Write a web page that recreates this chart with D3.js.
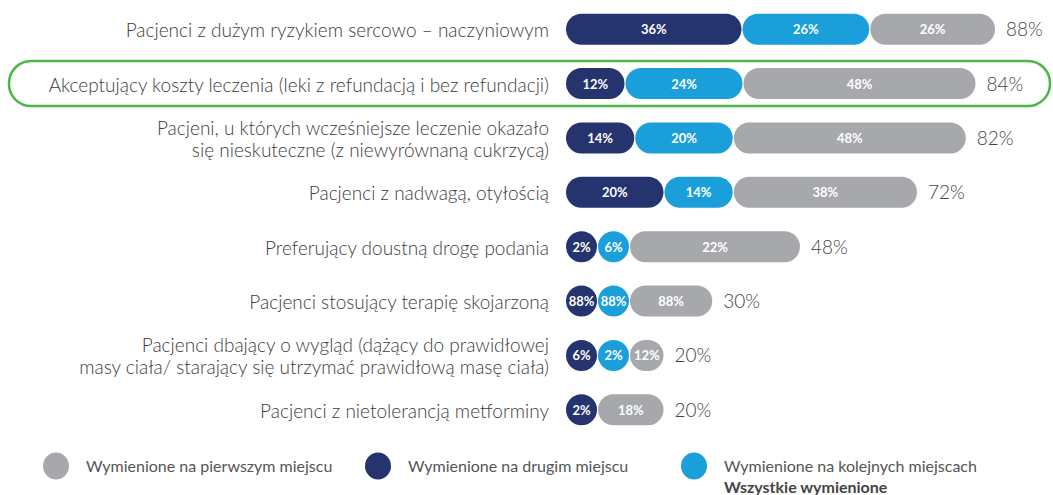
<!DOCTYPE html>
<html>
<head>
<meta charset="utf-8">
<script src="https://cdn.jsdelivr.net/npm/d3@7"></script>
<style>
  body { margin: 0; background: #fff; }
  svg { display: block; font-family: Lato, "Open Sans", sans-serif; }
</style>
</head>
<body>
<svg width="1053" height="495"></svg>
<script>
// dane
const categories = [
  ['Pacjenci z dużym ryzykiem sercowo – naczyniowym'],
  ['Akceptujący koszty leczenia (leki z refundacją i bez refundacji)'],
  ['Pacjeni, u których wcześniejsze leczenie okazało', 'się nieskuteczne (z niewyrównaną cukrzycą)'],
  ['Pacjenci z nadwagą, otyłością'],
  ['Preferujący doustną drogę podania'],
  ['Pacjenci stosujący terapię skojarzoną'],
  ['Pacjenci dbający o wygląd (dążący do prawidłowej', 'masy ciała/ starający się utrzymać prawidłową masę ciała)'],
  ['Pacjenci z nietolerancją metforminy']
];
const secondPlace = [36, 12, 14, 20, 2, 88, 6, 2];     // granatowy
const nextPlaces = [26, 24, 20, 14, 6, 88, 2, null];    // niebieski
const firstPlace = [26, 48, 48, 38, 22, 88, 12, 18];    // szary
const totals = [88, 84, 82, 72, 48, 30, 20, 20];
const highlighted = 1;

const legendItems = [
  { label: 'Wymienione na pierwszym miejscu', key: 'first' },
  { label: 'Wymienione na drugim miejscu', key: 'second' },
  { label: 'Wymienione na kolejnych miejscach', key: 'next' }
];

const colors = { second: '#25336e', next: '#1a9fdb', first: '#a7a8ab' };

const svg = d3.select('svg');

// skale
const x = d3.scaleLinear().domain([0, 88]).range([566, 995]);
const y = d3.scaleBand().domain(d3.range(categories.length)).range([2, 437]);
const barH = 31;
const minW = 31;
const gap = 1;

// ramka wyróżnienia
const hy = y(highlighted) + y.bandwidth() / 2;
svg.append('rect')
  .attr('x', 9)
  .attr('y', hy - 22.5)
  .attr('width', 1041)
  .attr('height', 45)
  .attr('rx', 22)
  .attr('fill', 'none')
  .attr('stroke', '#4db748')
  .attr('stroke-width', 2.5);

const rows = svg.selectAll('g.row')
  .data(categories)
  .join('g')
  .attr('class', 'row')
  .attr('transform', (d, i) => `translate(0,${y(i) + y.bandwidth() / 2})`);

// etykiety kategorii
rows.each(function (lines, i) {
  const t = d3.select(this).append('text')
    .attr('text-anchor', 'end')
    .attr('fill', '#3c3c3c')
    .style('font-size', '19px')
    .style('font-weight', 300);
  lines.forEach((ln, j) => {
    t.append('tspan')
      .attr('x', 549)
      .attr('y', (j - (lines.length - 1) / 2) * 22 + 8)
      .text(ln);
  });
});

// segmenty
rows.each(function (lines, i) {
  const g = d3.select(this);
  const parts = [['second', secondPlace[i]], ['next', nextPlaces[i]]].filter(p => p[1] != null);
  // gdy etykiety nie sumują się do wyniku, mniejsze segmenty dostają minimalną szerokość
  const consistent = d3.sum(parts, p => p[1]) + firstPlace[i] === totals[i];
  const segs = [];
  let start = x(0);
  parts.forEach(([key, v]) => {
    const w = consistent ? Math.max(minW, x(v) - x(0)) : minW;
    segs.push({ key, v, x0: start, w });
    start += w + gap;
  });
  segs.push({ key: 'first', v: firstPlace[i], x0: start, w: x(totals[i]) - start });

  g.selectAll('rect.seg')
    .data(segs)
    .join('rect')
    .attr('class', 'seg')
    .attr('x', d => d.x0)
    .attr('y', -barH / 2)
    .attr('width', d => d.w)
    .attr('height', barH)
    .attr('rx', barH / 2)
    .attr('fill', d => colors[d.key]);

  g.selectAll('text.seg')
    .data(segs)
    .join('text')
    .attr('class', 'seg')
    .attr('x', d => d.x0 + d.w / 2)
    .attr('y', 5)
    .attr('text-anchor', 'middle')
    .attr('fill', '#fff')
    .style('font-size', '13px')
    .style('font-weight', 'bold')
    .text(d => d.v + '%');

  // suma
  g.append('text')
    .attr('x', x(totals[i]) + 11)
    .attr('y', 7)
    .attr('fill', '#444')
    .style('font-size', '19px')
    .style('font-weight', 300)
    .text(totals[i] + '%');
});

// legenda
const legendX = [56, 378, 694];
const legend = svg.selectAll('g.legend')
  .data(legendItems)
  .join('g')
  .attr('class', 'legend')
  .attr('transform', (d, i) => `translate(${legendX[i]},466)`);

legend.append('ellipse')
  .attr('rx', 13)
  .attr('ry', 13.5)
  .attr('fill', d => colors[d.key]);

legend.append('text')
  .attr('x', 30)
  .attr('y', 6)
  .attr('fill', '#555')
  .style('font-size', '16px')
  .text(d => d.label);

svg.append('text')
  .attr('x', 724)
  .attr('y', 493)
  .attr('fill', '#444')
  .style('font-size', '16px')
  .style('font-weight', 'bold')
  .text('Wszystkie wymienione');
</script>
</body>
</html>
